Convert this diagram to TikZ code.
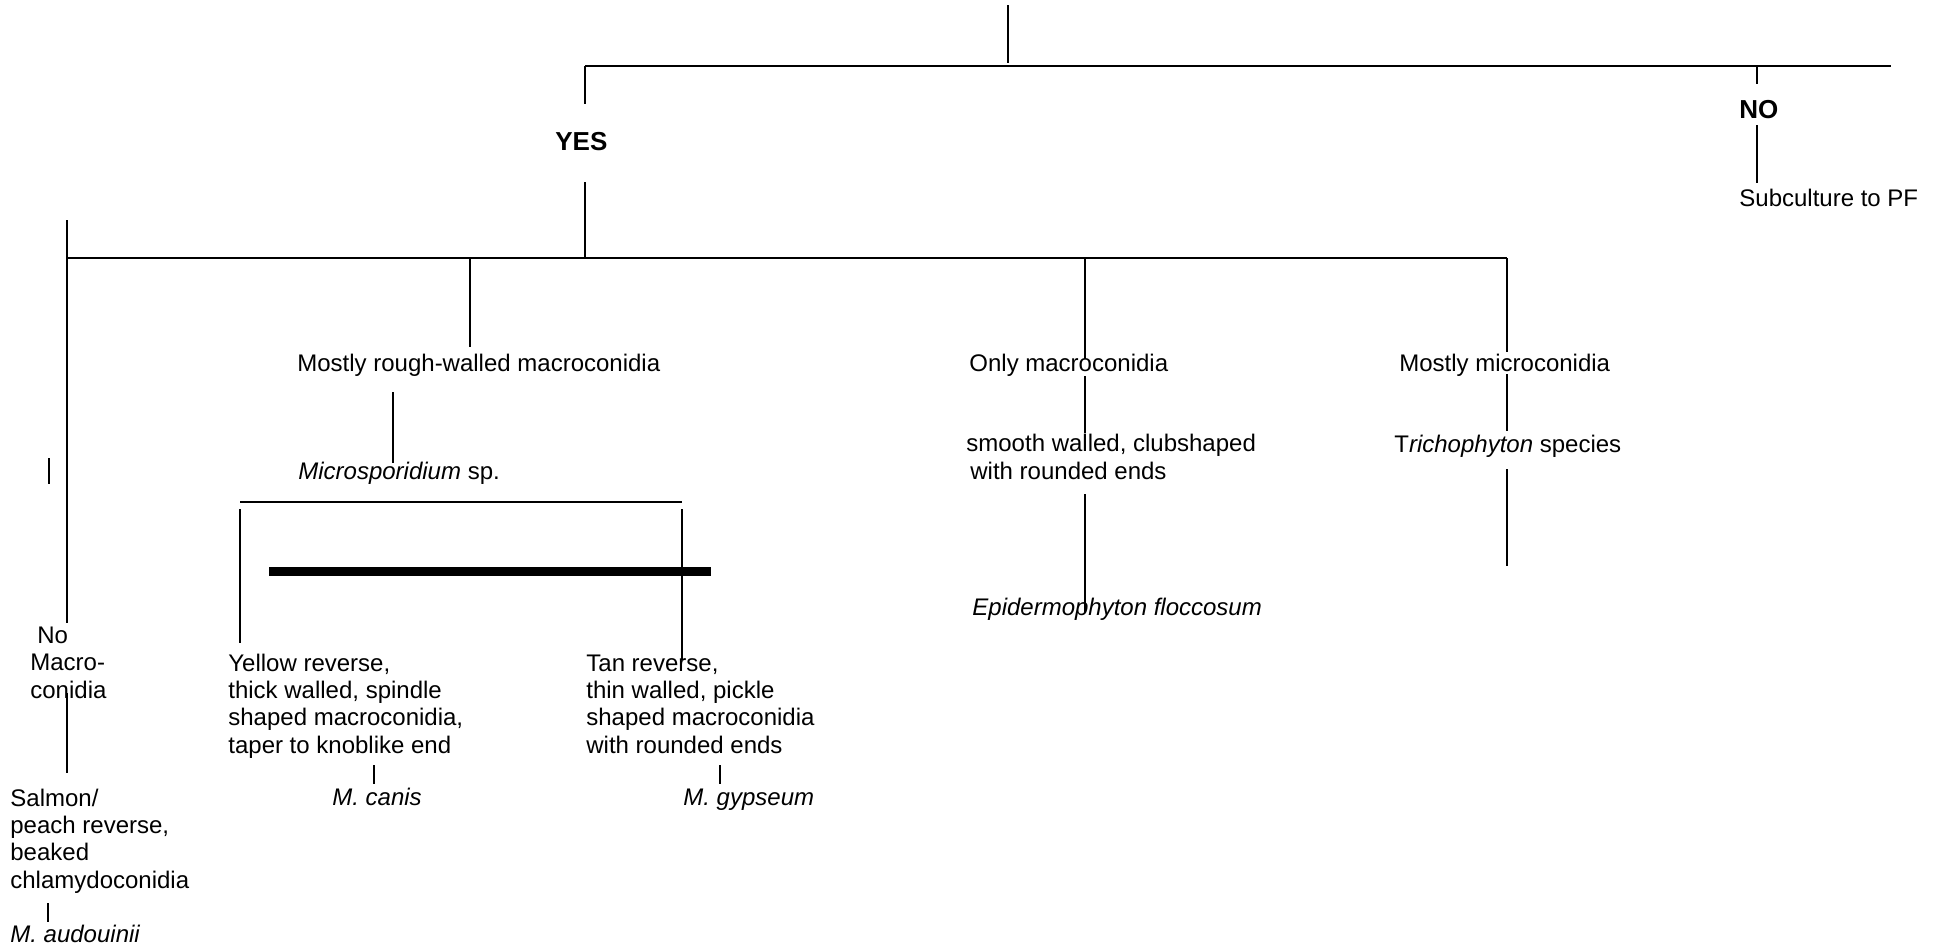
\documentclass[tikz,border=0pt]{standalone}
\usepackage{fontspec}
\setmainfont{Liberation Sans}
\begin{document}
\begin{tikzpicture}[x=0.5pt,y=-0.5pt,
  txt/.style={inner sep=0pt,anchor=base west,align=left,font=\fontsize{12}{13.65}\selectfont},
  ans/.style={inner sep=0pt,anchor=base west,font=\fontsize{13}{15}\selectfont\bfseries},
  conn/.style={line width=0.65pt},
  mainbar/.style={line width=0.85pt},
  heavybar/.style={line width=4.5pt}]
\useasboundingbox (0,0) rectangle (1940,949);

% ---------- labels (multi-line blocks are placed by their last baseline) ----------
\node[ans] (yes) at (555,150) {YES};
\node[ans] (no) at (1739,118) {NO};
\node[txt] (subc) at (1739,206) {Subculture to PF};
\node[txt] (rough) at (297,371) {Mostly rough-walled macroconidia};
\node[txt] (micsp) at (298,479) {\textit{Microsporidium} sp.};
\node[txt] (onlymac) at (969,371) {Only macroconidia};
\node[txt] (mostmic) at (1399,371) {Mostly microconidia};
\node[txt] (smooth) at (966,479) {smooth walled, clubshaped\\\hspace{2pt}with rounded ends};
\node[txt] (trich) at (1394,452) {T\textit{richophyton} species};
\node[txt] (epid) at (972,615) {\textit{Epidermophyton floccosum}};
\node[txt] (nomac) at (30,698) {\hspace{3.5pt}No\\Macro-\\conidia};
\node[txt] (salmon) at (10,888) {Salmon/\\peach reverse,\\beaked\\chlamydoconidia};
\node[txt] (aud) at (10,942) {\textit{M. audouinii}};
\node[txt] (yellow) at (228,753) {Yellow reverse,\\thick walled, spindle\\shaped macroconidia,\\taper to knoblike end};
\node[txt] (canis) at (332,805) {\textit{M. canis}};
\node[txt] (tan) at (586,753) {Tan reverse,\\thin walled, pickle\\shaped macroconidia\\with rounded ends};
\node[txt] (gyps) at (683,805) {\textit{M. gypseum}};

% ---------- junction points ----------
\coordinate (root) at (1008,5);
\coordinate (rootj) at (1008,63);
\coordinate (yesj) at (585,66);
\coordinate (noj) at (1757,66);
\coordinate (barR) at (1891,66);
\coordinate (yesA) at (585,104);
\coordinate (yesB) at (585,182);
\coordinate (midL) at (67,258);
\coordinate (midY) at (585,258);
\coordinate (midR) at (1507,258);
\coordinate (noA) at (1757,84);
\coordinate (noB) at (1757,125);
\coordinate (noC) at (1757,183);
% left column
\coordinate (leftTop) at (67,220);
\coordinate (leftBot) at (67,623);
\coordinate (tickA) at (49,458);
\coordinate (tickB) at (49,484);
\coordinate (nmA) at (67,693);
\coordinate (nmB) at (67,773);
\coordinate (audA) at (48,903);
\coordinate (audB) at (48,922);
% rough-walled branch
\coordinate (rwJ) at (470,258);
\coordinate (rwA) at (470,347);
\coordinate (msA) at (393,392);
\coordinate (msB) at (393,463);
\coordinate (brL) at (240,502);
\coordinate (brR) at (682,502);
\coordinate (ylA) at (240,509);
\coordinate (ylB) at (240,643);
\coordinate (tnA) at (682,509);
\coordinate (tnB) at (682,660);
\coordinate (hbL) at (269,571);
\coordinate (hbR) at (711,571);
\coordinate (cnA) at (374,765);
\coordinate (cnB) at (374,784);
\coordinate (gyA) at (720,765);
\coordinate (gyB) at (720,784);
% only macroconidia branch
\coordinate (omJ) at (1085,258);
\coordinate (omA) at (1085,359);
\coordinate (omB) at (1085,376);
\coordinate (omC) at (1085,433);
\coordinate (omD) at (1085,494);
\coordinate (omE) at (1085,612);
% mostly microconidia branch
\coordinate (mmA) at (1507,352);
\coordinate (mmB) at (1507,374);
\coordinate (mmC) at (1507,431);
\coordinate (mmD) at (1507,469);
\coordinate (mmE) at (1507,566);

% ---------- connectors ----------
\draw[conn] (root) -- (rootj);
\draw[mainbar] (yesj) -- (barR);
\draw[conn] (yesj) -- (yesA);
\draw[conn] (yesB) -- (midY);
\draw[conn] (noj) -- (noA);
\draw[conn] (noB) -- (noC);
\draw[conn] (midL) -- (midR);
\draw[conn] (leftTop) -- (leftBot);
\draw[conn] (tickA) -- (tickB);
\draw[conn] (nmA) -- (nmB);
\draw[conn] (audA) -- (audB);
\draw[conn] (rwJ) -- (rwA);
\draw[conn] (msA) -- (msB);
\draw[conn] (brL) -- (brR);
\draw[conn] (ylA) -- (ylB);
\draw[conn] (tnA) -- (tnB);
\draw[heavybar] (hbL) -- (hbR);
\draw[conn] (cnA) -- (cnB);
\draw[conn] (gyA) -- (gyB);
\draw[conn] (omJ) -- (omA);
\draw[conn] (omB) -- (omC);
\draw[conn] (omD) -- (omE);
\draw[conn] (midR) -- (mmA);
\draw[conn] (mmB) -- (mmC);
\draw[conn] (mmD) -- (mmE);
\end{tikzpicture}
\end{document}
